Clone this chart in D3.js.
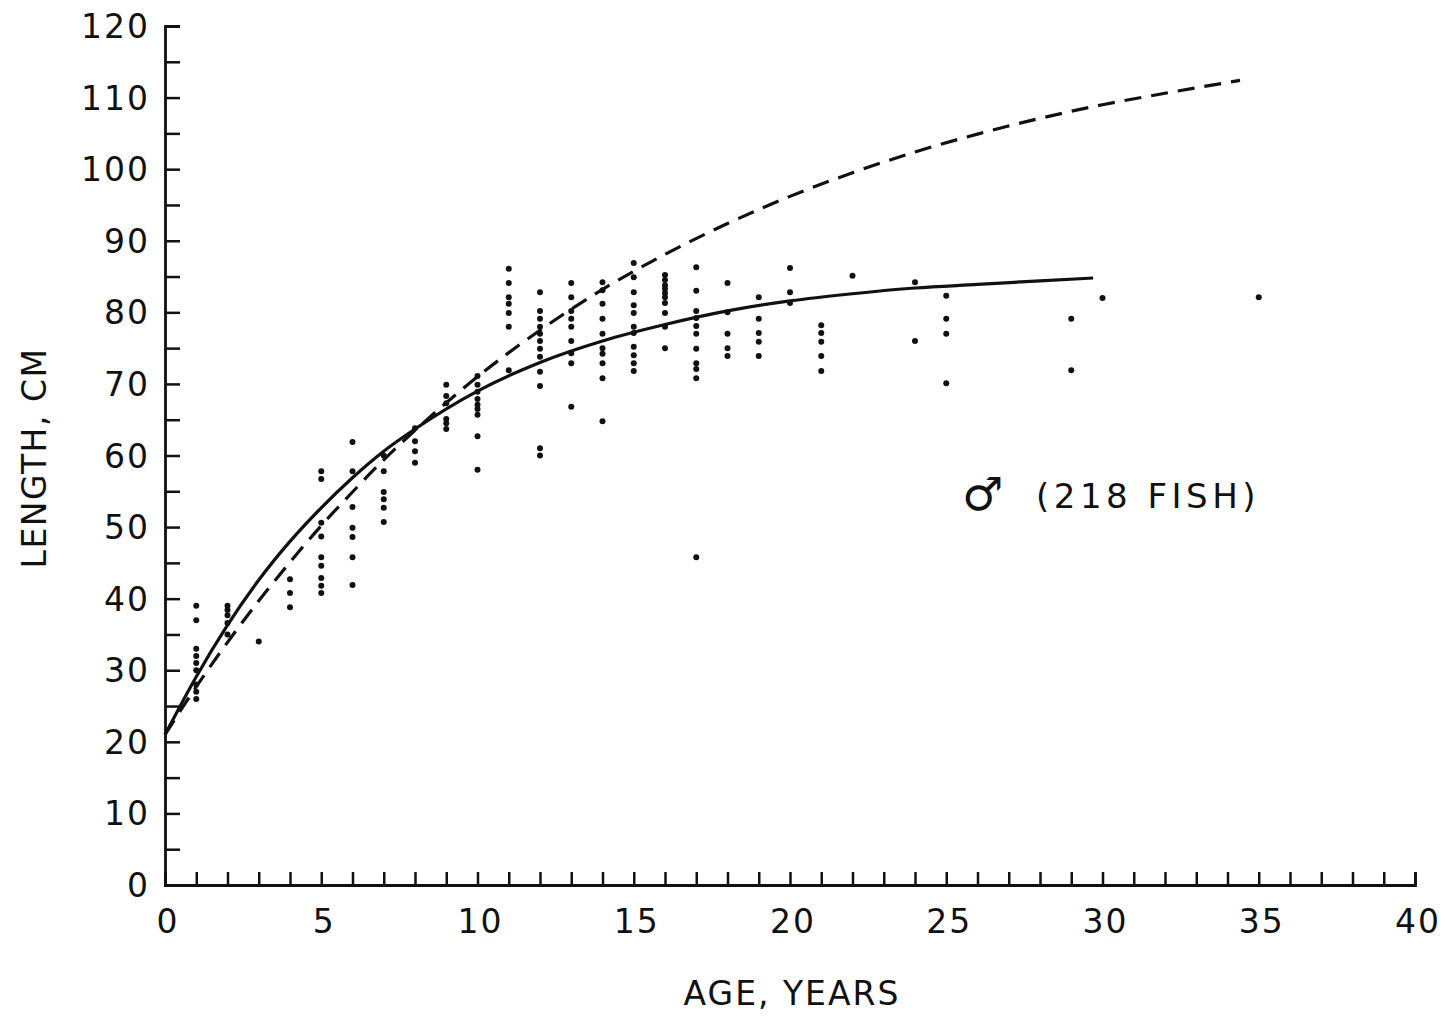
<!DOCTYPE html>
<html>
<head>
<meta charset="utf-8">
<script src="https://cdn.jsdelivr.net/npm/d3@7"></script>
<style>
  body { margin: 0; background: #fff; }
  text { font-family: "DejaVu Sans", sans-serif; fill: #111; }
</style>
</head>
<body>
<script>
// scatter: lengths (cm) observed at each age
var ages = [1, 2, 3, 4, 5, 6, 7, 8, 9, 10, 11, 12, 13, 14, 15, 16, 17, 18, 19, 20, 21, 22, 24, 25, 29, 30, 35];
var lengths = [
  [39, 37, 33, 32, 31, 30, 28, 27, 26],
  [39, 38.4, 37.7, 36.6, 35],
  [34],
  [42.7, 40.8, 38.8],
  [57.8, 56.7, 50.6, 48.7, 45.8, 44.6, 42.9, 41.8, 40.8],
  [61.9, 57.8, 52.8, 49.9, 48.6, 45.8, 41.9],
  [60, 57.8, 54.9, 53.9, 52.7, 50.7],
  [63.8, 62, 60.6, 59],
  [69.9, 68.3, 67.3, 65.1, 64.5, 63.7],
  [71.1, 69.9, 68.9, 67.9, 67.1, 66.5, 65.7, 62.7, 58],
  [86.1, 84.1, 82.1, 81.2, 79.9, 78, 71.9],
  [82.8, 80.2, 79.1, 78, 77, 76, 74.9, 73.8, 71.7, 69.7, 61, 60],
  [84.1, 82.1, 80.2, 79.1, 78, 76, 74.3, 72.9, 66.8],
  [84.2, 83.1, 81.2, 79.1, 77, 75, 74.2, 72.9, 70.8, 64.8],
  [86.9, 84.9, 82.8, 81, 79.9, 78, 77.1, 75.2, 74, 72.9, 71.8],
  [85.2, 84.5, 83.8, 83.3, 82.7, 82.1, 81.3, 79.9, 78, 75],
  [86.3, 83, 80.2, 79.2, 78.1, 77, 74.9, 72.9, 72.1, 70.8, 45.8],
  [84.1, 80, 77, 75, 73.9],
  [82.1, 79.1, 77.1, 75.9, 73.9],
  [86.2, 82.8, 81.3],
  [78.2, 77.1, 75.9, 73.9, 71.8],
  [85.1],
  [84.2, 76],
  [82.3, 79.1, 77, 70.1],
  [79.1, 71.9],
  [82],
  [82.1]
];

// solid growth curve
var solidAge = [0, 1, 2, 3, 4, 5, 6, 7, 8, 10, 12, 14, 16, 18, 20, 22, 24, 26, 28, 29.7];
var solidLen = [21, 29.1, 36.3, 42.6, 48.0, 52.7, 56.9, 60.6, 63.7, 69, 73.0, 76.0, 78.3, 80.2, 81.6, 82.6, 83.4, 83.9, 84.4, 84.8];

// dashed growth curve
var dashAge = [0, 1, 2, 3, 4, 5, 6, 7, 8, 10, 12, 14, 16, 18, 20, 22, 24, 26, 28, 30, 32, 34.4];
var dashLen = [21, 27.7, 33.9, 39.7, 45.1, 50.2, 54.9, 59.4, 63.5, 71.0, 77.5, 83.2, 88.1, 92.4, 96.2, 99.5, 102.4, 104.9, 107.1, 109.0, 110.6, 112.4];

var xTickLabels = [0, 5, 10, 15, 20, 25, 30, 35, 40];
var yTickLabels = [0, 10, 20, 30, 40, 50, 60, 70, 80, 90, 100, 110, 120];

var W = 1445, H = 1019;
var svg = d3.select("body").append("svg").attr("width", W).attr("height", H);

var x = d3.scaleLinear().domain([0, 40]).range([165, 1415]);
var y = d3.scaleLinear().domain([0, 120]).range([885, 26]);

// axes
var xAxis = d3.axisTop(x).tickValues(d3.range(0, 41, 1)).tickSize(13).tickFormat("");
var gx = svg.append("g").attr("transform", "translate(0," + y(0) + ")").call(xAxis);
var yAxis = d3.axisRight(y).tickValues(d3.range(0, 121, 5)).tickSize(15).tickFormat("");
var gy = svg.append("g").attr("transform", "translate(" + x(0) + ",0)").call(yAxis);
[gx, gy].forEach(function(g) {
  g.select(".domain").attr("stroke", "#111").attr("stroke-width", 2.8);
  g.selectAll(".tick line").attr("stroke", "#111").attr("stroke-width", 2.5);
});

svg.selectAll("text.xl").data(xTickLabels).enter().append("text")
  .attr("class", "xl")
  .attr("x", function(d) { return x(d) + 3; })
  .attr("y", 933)
  .attr("text-anchor", "middle")
  .style("font-size", "33px")
  .style("letter-spacing", "2px")
  .text(function(d) { return d; });

svg.selectAll("text.yl").data(yTickLabels).enter().append("text")
  .attr("class", "yl")
  .attr("x", 150)
  .attr("y", function(d) { return y(d) + 12; })
  .attr("text-anchor", "end")
  .style("font-size", "33px")
  .style("letter-spacing", "2px")
  .text(function(d) { return d; });

svg.append("text")
  .attr("transform", "translate(46,458) rotate(-90)")
  .attr("text-anchor", "middle")
  .style("font-size", "33px")
  .style("letter-spacing", "1.5px")
  .text("LENGTH, CM");

svg.append("text")
  .attr("x", 792).attr("y", 1005)
  .attr("text-anchor", "middle")
  .style("font-size", "33px")
  .style("letter-spacing", "2px")
  .text("AGE, YEARS");

// curves
var line = d3.line().curve(d3.curveMonotoneX)
  .x(function(d) { return x(d[0]); })
  .y(function(d) { return y(d[1]); });

svg.append("path")
  .datum(d3.zip(solidAge, solidLen))
  .attr("d", line)
  .attr("fill", "none").attr("stroke", "#111").attr("stroke-width", 3.2);

svg.append("path")
  .datum(d3.zip(dashAge, dashLen))
  .attr("d", line)
  .attr("fill", "none").attr("stroke", "#111").attr("stroke-width", 3.2)
  .attr("stroke-dasharray", "17,10");

// dots
var pts = [];
ages.forEach(function(a, i) {
  lengths[i].forEach(function(l) { pts.push([a, l]); });
});
svg.selectAll("circle.pt").data(pts).enter().append("circle")
  .attr("class", "pt")
  .attr("cx", function(d) { return x(d[0]); })
  .attr("cy", function(d) { return y(d[1]); })
  .attr("r", 3)
  .attr("fill", "#111");

// annotation
svg.append("text")
  .attr("x", 962).attr("y", 510)
  .style("font-size", "46px")
  .text("\u2642");
svg.append("text")
  .attr("x", 1036).attr("y", 508)
  .style("font-size", "34px")
  .style("letter-spacing", "4.5px")
  .text("(218 FISH)");
</script>
</body>
</html>
